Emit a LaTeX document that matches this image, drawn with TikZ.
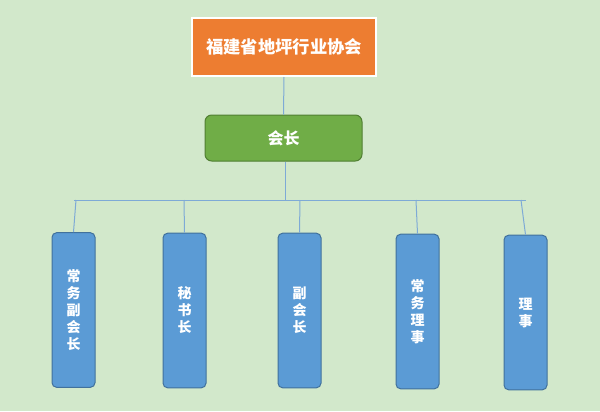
\documentclass[tikz,border=0pt]{standalone}
\usepackage{fontspec}
\newfontfamily\cjk{Noto Sans CJK SC}
\definecolor{bg}{HTML}{D2E8CB}
\definecolor{orangefill}{HTML}{ED7D31}
\definecolor{greenfill}{HTML}{70AD47}
\definecolor{greenline}{HTML}{507E32}
\definecolor{bluefill}{HTML}{5B9BD5}
\definecolor{blueline}{HTML}{41719C}
\definecolor{conn}{HTML}{7EAAD6}
\begin{document}
\begin{tikzpicture}[x=0.75pt,y=-0.75pt,
  topbox/.style={rectangle,draw=white,line width=1.5pt,fill=orangefill,text=white,
    minimum width=138pt,minimum height=43.5pt,inner sep=0pt,font=\cjk\bfseries\fontsize{13}{15}\selectfont},
  presbox/.style={rectangle,rounded corners=5pt,draw=greenline,line width=0.75pt,fill=greenfill,text=white,
    minimum width=117.75pt,minimum height=34.5pt,inner sep=0pt,font=\cjk\bfseries\fontsize{12}{14}\selectfont},
  memberbox/.style={rectangle,rounded corners=3.5pt,draw=blueline,line width=0.75pt,fill=bluefill,text=white,
    minimum width=32.25pt,minimum height=116pt,inner sep=0pt,align=center,
    font=\cjk\bfseries\fontsize{10.5}{12.75}\selectfont},
  connector/.style={draw=conn,line width=0.75pt}]
\fill[bg] (0,0) rectangle (600,411);
\useasboundingbox (0,0) rectangle (600,411);

\node[topbox] (top) at (284,47) {福建省地坪行业协会};
\node[presbox] (pres) at (283.5,138) {会长};

\node[memberbox] (b1) at (73.5,310) {常\\务\\副\\会\\长};
\node[memberbox] (b2) at (184.5,310.5) {秘\\书\\长};
\node[memberbox] (b3) at (299.5,310.5) {副\\会\\长};
\node[memberbox] (b4) at (417.5,311.5) {常\\务\\理\\事};
\node[memberbox] (b5) at (525.5,312.5) {理\\事};

\coordinate (hl) at (74,200);
\coordinate (hr) at (526,200);
\coordinate (hc) at (285,200);
\coordinate (t1) at (76,200);
\coordinate (t2) at (184,200);
\coordinate (t3) at (300,200);
\coordinate (t4) at (416,200);
\coordinate (t5) at (521,200);

\draw[connector] (top.south) -- (pres.north);
\draw[connector] (pres.south -| hc) -- (hc);
\draw[connector] (hl) -- (hr);
\draw[connector] (t1) -- (b1.north);
\draw[connector] (t2) -- (b2.north);
\draw[connector] (t3) -- (b3.north);
\draw[connector] (t4) -- (b4.north);
\draw[connector] (t5) -- (b5.north);
\end{tikzpicture}
\end{document}
